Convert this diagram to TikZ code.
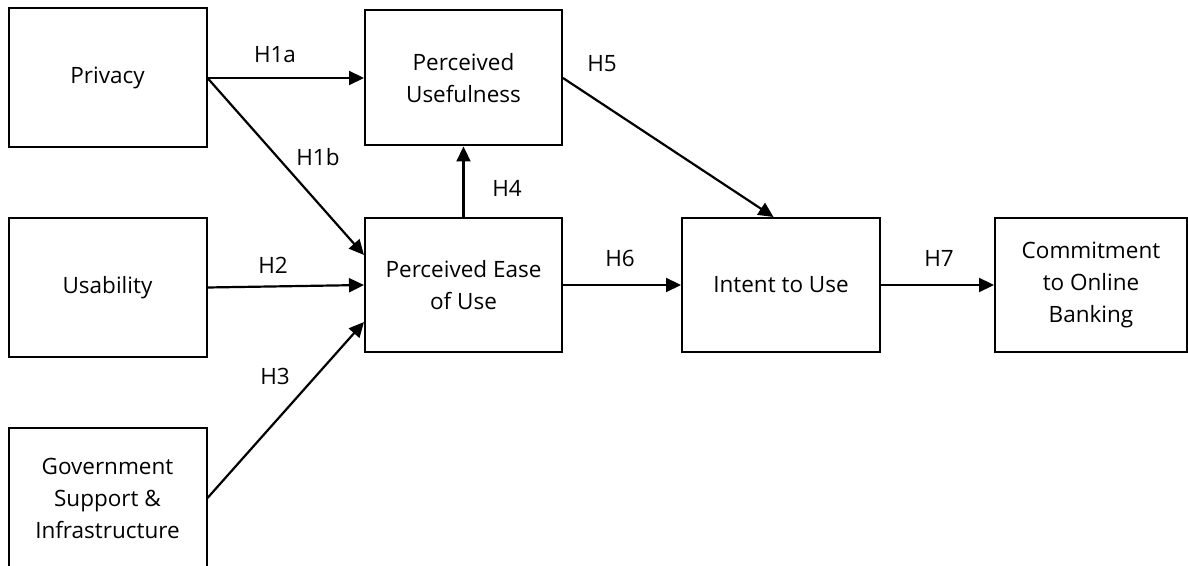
\documentclass[tikz,border=0pt]{standalone}
\usepackage{fontspec}
\setmainfont{Open Sans}
\usetikzlibrary{arrows.meta}
\begin{document}
\begin{tikzpicture}[x=1pt,y=1pt,
  box/.style={draw,line width=2pt,align=center,inner sep=0pt,font=\fontsize{22.5}{32}\selectfont},
  arr/.style={line width=2.2pt,-{Triangle[length=15pt,width=14pt]}},
  lab/.style={font=\fontsize{22.5}{26}\selectfont,inner sep=0pt}]
\useasboundingbox (0,0) rectangle (1188,565);
\def\Y#1{565-#1}
\node[box,minimum width=198pt,minimum height=139pt] (priv) at (107.5,{\Y{78}}) {Privacy};
\node[box,minimum width=198pt,minimum height=139pt] (usab) at (107.5,{\Y{287.5}}) {Usability};
\node[box,minimum width=198pt,minimum height=140pt] (gov) at (107.5,{\Y{498}}) {Government\\Support \&\\Infrastructure};
\node[box,minimum width=197pt,minimum height=135pt] (pu) at (463.5,{\Y{78}}) {Perceived\\Usefulness};
\node[box,minimum width=197pt,minimum height=134pt] (peou) at (463.5,{\Y{285}}) {Perceived Ease\\of Use};
\node[box,minimum width=198pt,minimum height=134pt] (itu) at (781,{\Y{285}}) {Intent to Use};
\node[box,minimum width=192pt,minimum height=134pt] (com) at (1091,{\Y{285}}) {Commitment\\to Online\\Banking};
\draw[arr] (priv.east) -- (pu.west);
\draw[arr] (priv.east) -- ([yshift=30pt]peou.west);
\draw[arr] (usab.east) -- (peou.west);
\draw[arr] (gov.east) -- ([yshift=-37pt]peou.west);
\draw[arr] (peou.north) -- (pu.south);
\draw[arr] (pu.east) -- ([xshift=-7.5pt]itu.north);
\draw[arr] (peou.east) -- (itu.west);
\draw[arr] (itu.east) -- (com.west);
\node[lab] (l1a) at (275,{\Y{55}}) {H1a};
\node[lab] (l1b) at (318,{\Y{157}}) {H1b};
\node[lab] (l2) at (273,{\Y{265}}) {H2};
\node[lab] (l3) at (275,{\Y{376}}) {H3};
\node[lab] (l4) at (507,{\Y{188}}) {H4};
\node[lab] (l5) at (602,{\Y{64}}) {H5};
\node[lab] (l6) at (620,{\Y{258}}) {H6};
\node[lab] (l7) at (939,{\Y{258}}) {H7};
\end{tikzpicture}
\end{document}
